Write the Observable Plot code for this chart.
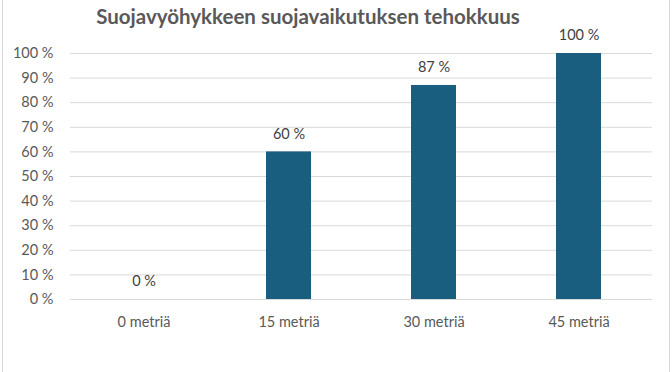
<!DOCTYPE html>
<html>
<head>
<meta charset="utf-8">
<script src="https://cdn.jsdelivr.net/npm/d3@7"></script>
<script src="https://cdn.jsdelivr.net/npm/@observablehq/plot@0.6"></script>
<style>
  html, body { margin: 0; padding: 0; background: #fff; }
  #wrap { position: relative; width: 672px; height: 372px; overflow: hidden; font-family: Lato, "Open Sans", sans-serif; }
  #title { position: absolute; left: 0; top: 4px; width: 616px; text-align: center; font-size: 20.5px; font-weight: bold; color: #595959; }
  #chart { position: absolute; left: 0; top: 34px; }
  #chart svg { overflow: visible; }
  .bl { position: absolute; top: 0; width: 1px; height: 372px; background: #d9d9d9; }
</style>
</head>
<body>
<div id="wrap">
  <div class="bl" style="left:2px"></div>
  <div class="bl" style="left:669px"></div>
  <div id="title">Suojavyöhykkeen suojavaikutuksen tehokkuus</div>
  <div id="chart"></div>
</div>
<script>
const categories = ["0 metriä", "15 metriä", "30 metriä", "45 metriä"];
const values = [0, 60, 87, 100];
const yTicks = [0, 10, 20, 30, 40, 50, 60, 70, 80, 90, 100];

const data = categories.map((c, i) => ({category: c, value: values[i]}));
const pct = d => `${d} %`;

const chart = Plot.plot({
  width: 672,
  height: 338,
  marginTop: 19,
  marginBottom: 73,
  marginLeft: 70,
  marginRight: 20,
  style: {fontFamily: "Lato, 'Open Sans', sans-serif", fontSize: "14.5px", color: "#595959", background: "transparent", overflow: "visible"},
  x: {domain: categories, paddingInner: 0.69, paddingOuter: 0.345, label: null, tickSize: 0, tickPadding: 17},
  y: {domain: [0, 100], label: null, ticks: yTicks, tickFormat: pct, tickSize: 0, tickPadding: 17},
  marks: [
    Plot.ruleY(yTicks, {stroke: "#d9d9d9", strokeWidth: 1}),
    Plot.barY(data, {x: "category", y: "value", fill: "#195e7f"}),
    Plot.text(data, {x: "category", y: "value", text: d => pct(d.value), dy: -18, fill: "#404040", fontSize: 14.5})
  ]
});
document.getElementById("chart").appendChild(chart);
</script>
</body>
</html>
